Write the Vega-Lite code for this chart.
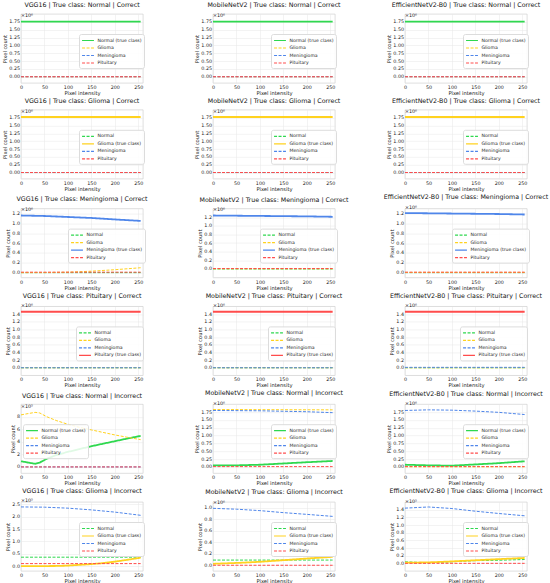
{
  "$schema": "https://vega.github.io/schema/vega-lite/v6.json",
  "background": "white",
  "padding": {"left": 2, "top": 2, "right": 2, "bottom": 1},
  "datasets": {
    "d": [
      {"p":"1v","s":"Normal (true class)","x":0,"y":1.76},{"p":"1v","s":"Normal (true class)","x":255,"y":1.76},
      {"p":"1v","s":"Glioma","x":0,"y":0},{"p":"1v","s":"Glioma","x":255,"y":0},
      {"p":"1v","s":"Meningioma","x":0,"y":0},{"p":"1v","s":"Meningioma","x":255,"y":0},
      {"p":"1v","s":"Pituitary","x":0,"y":0},{"p":"1v","s":"Pituitary","x":255,"y":0},
      {"p":"1m","s":"Normal (true class)","x":0,"y":1.76},{"p":"1m","s":"Normal (true class)","x":255,"y":1.76},
      {"p":"1m","s":"Glioma","x":0,"y":0},{"p":"1m","s":"Glioma","x":255,"y":0},
      {"p":"1m","s":"Meningioma","x":0,"y":0},{"p":"1m","s":"Meningioma","x":255,"y":0},
      {"p":"1m","s":"Pituitary","x":0,"y":0},{"p":"1m","s":"Pituitary","x":255,"y":0},
      {"p":"1e","s":"Normal (true class)","x":0,"y":1.76},{"p":"1e","s":"Normal (true class)","x":255,"y":1.76},
      {"p":"1e","s":"Glioma","x":0,"y":0},{"p":"1e","s":"Glioma","x":255,"y":0},
      {"p":"1e","s":"Meningioma","x":0,"y":0},{"p":"1e","s":"Meningioma","x":255,"y":0},
      {"p":"1e","s":"Pituitary","x":0,"y":0},{"p":"1e","s":"Pituitary","x":255,"y":0},

      {"p":"2v","s":"Normal","x":0,"y":0},{"p":"2v","s":"Normal","x":255,"y":0},
      {"p":"2v","s":"Glioma (true class)","x":0,"y":1.77},{"p":"2v","s":"Glioma (true class)","x":255,"y":1.77},
      {"p":"2v","s":"Meningioma","x":0,"y":0},{"p":"2v","s":"Meningioma","x":255,"y":0},
      {"p":"2v","s":"Pituitary","x":0,"y":0},{"p":"2v","s":"Pituitary","x":255,"y":0},
      {"p":"2m","s":"Normal","x":0,"y":0},{"p":"2m","s":"Normal","x":255,"y":0},
      {"p":"2m","s":"Glioma (true class)","x":0,"y":1.77},{"p":"2m","s":"Glioma (true class)","x":255,"y":1.77},
      {"p":"2m","s":"Meningioma","x":0,"y":0},{"p":"2m","s":"Meningioma","x":255,"y":0},
      {"p":"2m","s":"Pituitary","x":0,"y":0},{"p":"2m","s":"Pituitary","x":255,"y":0},
      {"p":"2e","s":"Normal","x":0,"y":0},{"p":"2e","s":"Normal","x":255,"y":0},
      {"p":"2e","s":"Glioma (true class)","x":0,"y":1.77},{"p":"2e","s":"Glioma (true class)","x":255,"y":1.77},
      {"p":"2e","s":"Meningioma","x":0,"y":0},{"p":"2e","s":"Meningioma","x":255,"y":0},
      {"p":"2e","s":"Pituitary","x":0,"y":0},{"p":"2e","s":"Pituitary","x":255,"y":0},

      {"p":"3v","s":"Normal","x":0,"y":0},{"p":"3v","s":"Normal","x":255,"y":0},
      {"p":"3v","s":"Glioma","x":0,"y":0},{"p":"3v","s":"Glioma","x":50,"y":0.002},{"p":"3v","s":"Glioma","x":100,"y":0.01},{"p":"3v","s":"Glioma","x":150,"y":0.03},{"p":"3v","s":"Glioma","x":200,"y":0.06},{"p":"3v","s":"Glioma","x":255,"y":0.1},
      {"p":"3v","s":"Meningioma (true class)","x":0,"y":1.16},{"p":"3v","s":"Meningioma (true class)","x":50,"y":1.15},{"p":"3v","s":"Meningioma (true class)","x":100,"y":1.13},{"p":"3v","s":"Meningioma (true class)","x":150,"y":1.11},{"p":"3v","s":"Meningioma (true class)","x":200,"y":1.08},{"p":"3v","s":"Meningioma (true class)","x":255,"y":1.05},
      {"p":"3v","s":"Pituitary","x":0,"y":0.01},{"p":"3v","s":"Pituitary","x":255,"y":0.01},
      {"p":"3m","s":"Normal","x":0,"y":0},{"p":"3m","s":"Normal","x":255,"y":0},
      {"p":"3m","s":"Glioma","x":0,"y":0.005},{"p":"3m","s":"Glioma","x":255,"y":0.005},
      {"p":"3m","s":"Meningioma (true class)","x":0,"y":1.24},{"p":"3m","s":"Meningioma (true class)","x":100,"y":1.23},{"p":"3m","s":"Meningioma (true class)","x":200,"y":1.22},{"p":"3m","s":"Meningioma (true class)","x":255,"y":1.21},
      {"p":"3m","s":"Pituitary","x":0,"y":0.01},{"p":"3m","s":"Pituitary","x":255,"y":0.01},
      {"p":"3e","s":"Normal","x":0,"y":0},{"p":"3e","s":"Normal","x":255,"y":0},
      {"p":"3e","s":"Glioma","x":0,"y":0.005},{"p":"3e","s":"Glioma","x":255,"y":0.005},
      {"p":"3e","s":"Meningioma (true class)","x":0,"y":1.21},{"p":"3e","s":"Meningioma (true class)","x":100,"y":1.2},{"p":"3e","s":"Meningioma (true class)","x":200,"y":1.19},{"p":"3e","s":"Meningioma (true class)","x":255,"y":1.18},
      {"p":"3e","s":"Pituitary","x":0,"y":0.01},{"p":"3e","s":"Pituitary","x":255,"y":0.01},

      {"p":"4v","s":"Normal","x":0,"y":0},{"p":"4v","s":"Normal","x":255,"y":0},
      {"p":"4v","s":"Glioma","x":0,"y":0},{"p":"4v","s":"Glioma","x":255,"y":0},
      {"p":"4v","s":"Meningioma","x":0,"y":0},{"p":"4v","s":"Meningioma","x":255,"y":0},
      {"p":"4v","s":"Pituitary (true class)","x":0,"y":1.46},{"p":"4v","s":"Pituitary (true class)","x":255,"y":1.46},
      {"p":"4m","s":"Normal","x":0,"y":0},{"p":"4m","s":"Normal","x":255,"y":0},
      {"p":"4m","s":"Glioma","x":0,"y":0},{"p":"4m","s":"Glioma","x":255,"y":0},
      {"p":"4m","s":"Meningioma","x":0,"y":0},{"p":"4m","s":"Meningioma","x":255,"y":0},
      {"p":"4m","s":"Pituitary (true class)","x":0,"y":1.46},{"p":"4m","s":"Pituitary (true class)","x":255,"y":1.46},
      {"p":"4e","s":"Normal","x":0,"y":0},{"p":"4e","s":"Normal","x":255,"y":0},
      {"p":"4e","s":"Glioma","x":0,"y":0},{"p":"4e","s":"Glioma","x":255,"y":0},
      {"p":"4e","s":"Meningioma","x":0,"y":0.01},{"p":"4e","s":"Meningioma","x":255,"y":0.01},
      {"p":"4e","s":"Pituitary (true class)","x":0,"y":1.46},{"p":"4e","s":"Pituitary (true class)","x":255,"y":1.46},

      {"p":"5v","s":"Normal (true class)","x":0,"y":0.9},{"p":"5v","s":"Normal (true class)","x":15,"y":0.7},{"p":"5v","s":"Normal (true class)","x":30,"y":0.5},{"p":"5v","s":"Normal (true class)","x":40,"y":0.7},{"p":"5v","s":"Normal (true class)","x":55,"y":1.3},{"p":"5v","s":"Normal (true class)","x":75,"y":1.9},{"p":"5v","s":"Normal (true class)","x":100,"y":2.4},{"p":"5v","s":"Normal (true class)","x":125,"y":2.85},{"p":"5v","s":"Normal (true class)","x":150,"y":3.3},{"p":"5v","s":"Normal (true class)","x":175,"y":3.7},{"p":"5v","s":"Normal (true class)","x":200,"y":4.1},{"p":"5v","s":"Normal (true class)","x":225,"y":4.5},{"p":"5v","s":"Normal (true class)","x":255,"y":4.95},
      {"p":"5v","s":"Glioma","x":0,"y":8.3},{"p":"5v","s":"Glioma","x":15,"y":8.5},{"p":"5v","s":"Glioma","x":30,"y":8.7},{"p":"5v","s":"Glioma","x":40,"y":8.6},{"p":"5v","s":"Glioma","x":55,"y":8.0},{"p":"5v","s":"Glioma","x":75,"y":7.4},{"p":"5v","s":"Glioma","x":100,"y":6.8},{"p":"5v","s":"Glioma","x":125,"y":6.3},{"p":"5v","s":"Glioma","x":150,"y":5.9},{"p":"5v","s":"Glioma","x":175,"y":5.5},{"p":"5v","s":"Glioma","x":200,"y":5.1},{"p":"5v","s":"Glioma","x":225,"y":4.75},{"p":"5v","s":"Glioma","x":255,"y":4.35},
      {"p":"5v","s":"Meningioma","x":0,"y":0},{"p":"5v","s":"Meningioma","x":255,"y":0},
      {"p":"5v","s":"Pituitary","x":0,"y":0},{"p":"5v","s":"Pituitary","x":255,"y":0},
      {"p":"5m","s":"Normal (true class)","x":0,"y":0.05},{"p":"5m","s":"Normal (true class)","x":50,"y":0.05},{"p":"5m","s":"Normal (true class)","x":100,"y":0.07},{"p":"5m","s":"Normal (true class)","x":150,"y":0.11},{"p":"5m","s":"Normal (true class)","x":200,"y":0.15},{"p":"5m","s":"Normal (true class)","x":255,"y":0.19},
      {"p":"5m","s":"Glioma","x":0,"y":1.83},{"p":"5m","s":"Glioma","x":255,"y":1.82},
      {"p":"5m","s":"Meningioma","x":0,"y":1.8},{"p":"5m","s":"Meningioma","x":100,"y":1.79},{"p":"5m","s":"Meningioma","x":200,"y":1.76},{"p":"5m","s":"Meningioma","x":255,"y":1.73},
      {"p":"5m","s":"Pituitary","x":0,"y":0.01},{"p":"5m","s":"Pituitary","x":255,"y":0.01},
      {"p":"5e","s":"Normal (true class)","x":0,"y":0.07},{"p":"5e","s":"Normal (true class)","x":50,"y":0.05},{"p":"5e","s":"Normal (true class)","x":100,"y":0.04},{"p":"5e","s":"Normal (true class)","x":150,"y":0.08},{"p":"5e","s":"Normal (true class)","x":200,"y":0.12},{"p":"5e","s":"Normal (true class)","x":255,"y":0.18},
      {"p":"5e","s":"Glioma","x":0,"y":0.005},{"p":"5e","s":"Glioma","x":255,"y":0.005},
      {"p":"5e","s":"Meningioma","x":0,"y":1.8},{"p":"5e","s":"Meningioma","x":50,"y":1.82},{"p":"5e","s":"Meningioma","x":100,"y":1.81},{"p":"5e","s":"Meningioma","x":150,"y":1.78},{"p":"5e","s":"Meningioma","x":200,"y":1.74},{"p":"5e","s":"Meningioma","x":255,"y":1.67},
      {"p":"5e","s":"Pituitary","x":0,"y":0.01},{"p":"5e","s":"Pituitary","x":255,"y":0.01},

      {"p":"6v","s":"Normal","x":0,"y":0.36},{"p":"6v","s":"Normal","x":255,"y":0.36},
      {"p":"6v","s":"Glioma (true class)","x":0,"y":0},{"p":"6v","s":"Glioma (true class)","x":50,"y":0},{"p":"6v","s":"Glioma (true class)","x":80,"y":0.005},{"p":"6v","s":"Glioma (true class)","x":100,"y":0.02},{"p":"6v","s":"Glioma (true class)","x":125,"y":0.05},{"p":"6v","s":"Glioma (true class)","x":150,"y":0.08},{"p":"6v","s":"Glioma (true class)","x":175,"y":0.12},{"p":"6v","s":"Glioma (true class)","x":200,"y":0.18},{"p":"6v","s":"Glioma (true class)","x":225,"y":0.25},{"p":"6v","s":"Glioma (true class)","x":255,"y":0.34},
      {"p":"6v","s":"Meningioma","x":0,"y":2.4},{"p":"6v","s":"Meningioma","x":50,"y":2.39},{"p":"6v","s":"Meningioma","x":100,"y":2.35},{"p":"6v","s":"Meningioma","x":150,"y":2.28},{"p":"6v","s":"Meningioma","x":200,"y":2.19},{"p":"6v","s":"Meningioma","x":255,"y":2.06},
      {"p":"6v","s":"Pituitary","x":0,"y":0.1},{"p":"6v","s":"Pituitary","x":255,"y":0.1},
      {"p":"6m","s":"Normal","x":0,"y":0.09},{"p":"6m","s":"Normal","x":255,"y":0.09},
      {"p":"6m","s":"Glioma (true class)","x":0,"y":0.025},{"p":"6m","s":"Glioma (true class)","x":50,"y":0.04},{"p":"6m","s":"Glioma (true class)","x":100,"y":0.06},{"p":"6m","s":"Glioma (true class)","x":150,"y":0.088},{"p":"6m","s":"Glioma (true class)","x":200,"y":0.117},{"p":"6m","s":"Glioma (true class)","x":255,"y":0.146},
      {"p":"6m","s":"Meningioma","x":0,"y":0.99},{"p":"6m","s":"Meningioma","x":50,"y":0.975},{"p":"6m","s":"Meningioma","x":100,"y":0.95},{"p":"6m","s":"Meningioma","x":150,"y":0.915},{"p":"6m","s":"Meningioma","x":200,"y":0.885},{"p":"6m","s":"Meningioma","x":255,"y":0.85},
      {"p":"6m","s":"Pituitary","x":0,"y":0},{"p":"6m","s":"Pituitary","x":255,"y":0},
      {"p":"6e","s":"Normal","x":0,"y":0.04},{"p":"6e","s":"Normal","x":50,"y":0.015},{"p":"6e","s":"Normal","x":100,"y":0.04},{"p":"6e","s":"Normal","x":150,"y":0.07},{"p":"6e","s":"Normal","x":200,"y":0.08},{"p":"6e","s":"Normal","x":255,"y":0.1},
      {"p":"6e","s":"Glioma (true class)","x":0,"y":0.015},{"p":"6e","s":"Glioma (true class)","x":50,"y":0.025},{"p":"6e","s":"Glioma (true class)","x":100,"y":0.05},{"p":"6e","s":"Glioma (true class)","x":150,"y":0.08},{"p":"6e","s":"Glioma (true class)","x":200,"y":0.11},{"p":"6e","s":"Glioma (true class)","x":255,"y":0.14},
      {"p":"6e","s":"Meningioma","x":0,"y":1.44},{"p":"6e","s":"Meningioma","x":50,"y":1.47},{"p":"6e","s":"Meningioma","x":100,"y":1.43},{"p":"6e","s":"Meningioma","x":150,"y":1.36},{"p":"6e","s":"Meningioma","x":200,"y":1.3},{"p":"6e","s":"Meningioma","x":255,"y":1.24},
      {"p":"6e","s":"Pituitary","x":0,"y":0},{"p":"6e","s":"Pituitary","x":255,"y":0}
    ]
  },
  "spacing": 0.8,
  "resolve": {"scale": {"color": "independent", "strokeDash": "independent"}},
  "vconcat": [
    {
      "bounds": "flush", "spacing": 70,
      "resolve": {"scale": {"color": "independent", "strokeDash": "independent"}},
      "hconcat": [
        {"title": "VGG16 | True class: Normal | Correct", "width": 122, "height": 69, "layer": [
          {"data": {"name": "d"}, "transform": [{"filter": "datum.p=='1v'"}], "mark": "line", "encoding": {
            "x": {"field": "x", "type": "quantitative", "title": "Pixel intensity", "scale": {"domain": [0, 255]}, "axis": {"values": [0, 50, 100, 150, 200, 250], "labelOverlap": false}},
            "y": {"field": "y", "type": "quantitative", "title": "Pixel count", "scale": {"domain": [-0.088, 1.848]}, "axis": {"values": [0, 0.25, 0.5, 0.75, 1, 1.25, 1.5, 1.75], "format": ".2f", "labelOverlap": false}},
            "color": {"field": "s", "type": "nominal", "scale": {"domain": ["Normal (true class)", "Glioma", "Meningioma", "Pituitary"], "range": ["#2fd84f", "#ffd21f", "#4f86ea", "#ff4c4c"]}, "legend": {"title": null, "legendX": 58, "legendY": 20}},
            "strokeDash": {"field": "s", "type": "nominal", "scale": {"domain": ["Normal (true class)", "Glioma", "Meningioma", "Pituitary"], "range": [[1, 0], [3, 1.5], [3, 1.5], [3, 1.5]]}, "legend": {"title": null}},
            "strokeWidth": {"condition": {"test": "indexof(datum.s,'true')>=0", "value": 1.8}, "value": 1}}},
          {"data": {"values": [{"t": "×10⁶"}]}, "mark": {"type": "text", "align": "left", "baseline": "bottom", "dy": -0.5, "fontSize": 4.8}, "encoding": {
            "x": {"datum": 0, "type": "quantitative", "title": "Pixel intensity", "axis": {"values": [0, 50, 100, 150, 200, 250], "labelOverlap": false}},
            "y": {"datum": 1.848, "type": "quantitative", "title": "Pixel count", "axis": {"values": [0, 0.25, 0.5, 0.75, 1, 1.25, 1.5, 1.75], "format": ".2f", "labelOverlap": false}}, "text": {"field": "t"}}}]},
        {"title": "MobileNetV2 | True class: Normal | Correct", "width": 122, "height": 69, "layer": [
          {"data": {"name": "d"}, "transform": [{"filter": "datum.p=='1m'"}], "mark": "line", "encoding": {
            "x": {"field": "x", "type": "quantitative", "title": "Pixel intensity", "scale": {"domain": [0, 255]}, "axis": {"values": [0, 50, 100, 150, 200, 250], "labelOverlap": false}},
            "y": {"field": "y", "type": "quantitative", "title": "Pixel count", "scale": {"domain": [-0.088, 1.848]}, "axis": {"values": [0, 0.25, 0.5, 0.75, 1, 1.25, 1.5, 1.75], "format": ".2f", "labelOverlap": false}},
            "color": {"field": "s", "type": "nominal", "scale": {"domain": ["Normal (true class)", "Glioma", "Meningioma", "Pituitary"], "range": ["#2fd84f", "#ffd21f", "#4f86ea", "#ff4c4c"]}, "legend": {"title": null, "legendX": 58, "legendY": 20}},
            "strokeDash": {"field": "s", "type": "nominal", "scale": {"domain": ["Normal (true class)", "Glioma", "Meningioma", "Pituitary"], "range": [[1, 0], [3, 1.5], [3, 1.5], [3, 1.5]]}, "legend": {"title": null}},
            "strokeWidth": {"condition": {"test": "indexof(datum.s,'true')>=0", "value": 1.8}, "value": 1}}},
          {"data": {"values": [{"t": "×10⁶"}]}, "mark": {"type": "text", "align": "left", "baseline": "bottom", "dy": -0.5, "fontSize": 4.8}, "encoding": {
            "x": {"datum": 0, "type": "quantitative", "title": "Pixel intensity", "axis": {"values": [0, 50, 100, 150, 200, 250], "labelOverlap": false}},
            "y": {"datum": 1.848, "type": "quantitative", "title": "Pixel count", "axis": {"values": [0, 0.25, 0.5, 0.75, 1, 1.25, 1.5, 1.75], "format": ".2f", "labelOverlap": false}}, "text": {"field": "t"}}}]},
        {"title": "EfficientNetV2-B0 | True class: Normal | Correct", "width": 122, "height": 69, "layer": [
          {"data": {"name": "d"}, "transform": [{"filter": "datum.p=='1e'"}], "mark": "line", "encoding": {
            "x": {"field": "x", "type": "quantitative", "title": "Pixel intensity", "scale": {"domain": [0, 255]}, "axis": {"values": [0, 50, 100, 150, 200, 250], "labelOverlap": false}},
            "y": {"field": "y", "type": "quantitative", "title": "Pixel count", "scale": {"domain": [-0.088, 1.848]}, "axis": {"values": [0, 0.25, 0.5, 0.75, 1, 1.25, 1.5, 1.75], "format": ".2f", "labelOverlap": false}},
            "color": {"field": "s", "type": "nominal", "scale": {"domain": ["Normal (true class)", "Glioma", "Meningioma", "Pituitary"], "range": ["#2fd84f", "#ffd21f", "#4f86ea", "#ff4c4c"]}, "legend": {"title": null, "legendX": 58, "legendY": 20}},
            "strokeDash": {"field": "s", "type": "nominal", "scale": {"domain": ["Normal (true class)", "Glioma", "Meningioma", "Pituitary"], "range": [[1, 0], [3, 1.5], [3, 1.5], [3, 1.5]]}, "legend": {"title": null}},
            "strokeWidth": {"condition": {"test": "indexof(datum.s,'true')>=0", "value": 1.8}, "value": 1}}},
          {"data": {"values": [{"t": "×10⁶"}]}, "mark": {"type": "text", "align": "left", "baseline": "bottom", "dy": -0.5, "fontSize": 4.8}, "encoding": {
            "x": {"datum": 0, "type": "quantitative", "title": "Pixel intensity", "axis": {"values": [0, 50, 100, 150, 200, 250], "labelOverlap": false}},
            "y": {"datum": 1.848, "type": "quantitative", "title": "Pixel count", "axis": {"values": [0, 0.25, 0.5, 0.75, 1, 1.25, 1.5, 1.75], "format": ".2f", "labelOverlap": false}}, "text": {"field": "t"}}}]}
      ]
    },
    {
      "bounds": "flush", "spacing": 70,
      "resolve": {"scale": {"color": "independent", "strokeDash": "independent"}},
      "hconcat": [
        {"title": "VGG16 | True class: Glioma | Correct", "width": 122, "height": 69, "layer": [
          {"data": {"name": "d"}, "transform": [{"filter": "datum.p=='2v'"}], "mark": "line", "encoding": {
            "x": {"field": "x", "type": "quantitative", "title": "Pixel intensity", "scale": {"domain": [0, 255]}, "axis": {"values": [0, 50, 100, 150, 200, 250], "labelOverlap": false}},
            "y": {"field": "y", "type": "quantitative", "title": "Pixel count", "scale": {"domain": [-0.089, 1.859]}, "axis": {"values": [0, 0.25, 0.5, 0.75, 1, 1.25, 1.5, 1.75], "format": ".2f", "labelOverlap": false}},
            "color": {"field": "s", "type": "nominal", "scale": {"domain": ["Normal", "Glioma (true class)", "Meningioma", "Pituitary"], "range": ["#2fd84f", "#ffd21f", "#4f86ea", "#ff4c4c"]}, "legend": {"title": null, "legendX": 58, "legendY": 20}},
            "strokeDash": {"field": "s", "type": "nominal", "scale": {"domain": ["Normal", "Glioma (true class)", "Meningioma", "Pituitary"], "range": [[3, 1.5], [1, 0], [3, 1.5], [3, 1.5]]}, "legend": {"title": null}},
            "strokeWidth": {"condition": {"test": "indexof(datum.s,'true')>=0", "value": 1.8}, "value": 1}}},
          {"data": {"values": [{"t": "×10⁶"}]}, "mark": {"type": "text", "align": "left", "baseline": "bottom", "dy": -0.5, "fontSize": 4.8}, "encoding": {
            "x": {"datum": 0, "type": "quantitative", "title": "Pixel intensity", "axis": {"values": [0, 50, 100, 150, 200, 250], "labelOverlap": false}},
            "y": {"datum": 1.859, "type": "quantitative", "title": "Pixel count", "axis": {"values": [0, 0.25, 0.5, 0.75, 1, 1.25, 1.5, 1.75], "format": ".2f", "labelOverlap": false}}, "text": {"field": "t"}}}]},
        {"title": "MobileNetV2 | True class: Glioma | Correct", "width": 122, "height": 69, "layer": [
          {"data": {"name": "d"}, "transform": [{"filter": "datum.p=='2m'"}], "mark": "line", "encoding": {
            "x": {"field": "x", "type": "quantitative", "title": "Pixel intensity", "scale": {"domain": [0, 255]}, "axis": {"values": [0, 50, 100, 150, 200, 250], "labelOverlap": false}},
            "y": {"field": "y", "type": "quantitative", "title": "Pixel count", "scale": {"domain": [-0.089, 1.859]}, "axis": {"values": [0, 0.25, 0.5, 0.75, 1, 1.25, 1.5, 1.75], "format": ".2f", "labelOverlap": false}},
            "color": {"field": "s", "type": "nominal", "scale": {"domain": ["Normal", "Glioma (true class)", "Meningioma", "Pituitary"], "range": ["#2fd84f", "#ffd21f", "#4f86ea", "#ff4c4c"]}, "legend": {"title": null, "legendX": 58, "legendY": 20}},
            "strokeDash": {"field": "s", "type": "nominal", "scale": {"domain": ["Normal", "Glioma (true class)", "Meningioma", "Pituitary"], "range": [[3, 1.5], [1, 0], [3, 1.5], [3, 1.5]]}, "legend": {"title": null}},
            "strokeWidth": {"condition": {"test": "indexof(datum.s,'true')>=0", "value": 1.8}, "value": 1}}},
          {"data": {"values": [{"t": "×10⁶"}]}, "mark": {"type": "text", "align": "left", "baseline": "bottom", "dy": -0.5, "fontSize": 4.8}, "encoding": {
            "x": {"datum": 0, "type": "quantitative", "title": "Pixel intensity", "axis": {"values": [0, 50, 100, 150, 200, 250], "labelOverlap": false}},
            "y": {"datum": 1.859, "type": "quantitative", "title": "Pixel count", "axis": {"values": [0, 0.25, 0.5, 0.75, 1, 1.25, 1.5, 1.75], "format": ".2f", "labelOverlap": false}}, "text": {"field": "t"}}}]},
        {"title": "EfficientNetV2-B0 | True class: Glioma | Correct", "width": 122, "height": 69, "layer": [
          {"data": {"name": "d"}, "transform": [{"filter": "datum.p=='2e'"}], "mark": "line", "encoding": {
            "x": {"field": "x", "type": "quantitative", "title": "Pixel intensity", "scale": {"domain": [0, 255]}, "axis": {"values": [0, 50, 100, 150, 200, 250], "labelOverlap": false}},
            "y": {"field": "y", "type": "quantitative", "title": "Pixel count", "scale": {"domain": [-0.089, 1.859]}, "axis": {"values": [0, 0.25, 0.5, 0.75, 1, 1.25, 1.5, 1.75], "format": ".2f", "labelOverlap": false}},
            "color": {"field": "s", "type": "nominal", "scale": {"domain": ["Normal", "Glioma (true class)", "Meningioma", "Pituitary"], "range": ["#2fd84f", "#ffd21f", "#4f86ea", "#ff4c4c"]}, "legend": {"title": null, "legendX": 58, "legendY": 20}},
            "strokeDash": {"field": "s", "type": "nominal", "scale": {"domain": ["Normal", "Glioma (true class)", "Meningioma", "Pituitary"], "range": [[3, 1.5], [1, 0], [3, 1.5], [3, 1.5]]}, "legend": {"title": null}},
            "strokeWidth": {"condition": {"test": "indexof(datum.s,'true')>=0", "value": 1.8}, "value": 1}}},
          {"data": {"values": [{"t": "×10⁶"}]}, "mark": {"type": "text", "align": "left", "baseline": "bottom", "dy": -0.5, "fontSize": 4.8}, "encoding": {
            "x": {"datum": 0, "type": "quantitative", "title": "Pixel intensity", "axis": {"values": [0, 50, 100, 150, 200, 250], "labelOverlap": false}},
            "y": {"datum": 1.859, "type": "quantitative", "title": "Pixel count", "axis": {"values": [0, 0.25, 0.5, 0.75, 1, 1.25, 1.5, 1.75], "format": ".2f", "labelOverlap": false}}, "text": {"field": "t"}}}]}
      ]
    },
    {
      "bounds": "flush", "spacing": 70,
      "resolve": {"scale": {"color": "independent", "strokeDash": "independent"}},
      "hconcat": [
        {"title": "VGG16 | True class: Meningioma | Correct", "width": 122, "height": 69, "layer": [
          {"data": {"name": "d"}, "transform": [{"filter": "datum.p=='3v'"}], "mark": "line", "encoding": {
            "x": {"field": "x", "type": "quantitative", "title": "Pixel intensity", "scale": {"domain": [0, 255]}, "axis": {"values": [0, 50, 100, 150, 200, 250], "labelOverlap": false}},
            "y": {"field": "y", "type": "quantitative", "title": "Pixel count", "scale": {"domain": [-0.058, 1.218]}, "axis": {"values": [0, 0.2, 0.4, 0.6, 0.8, 1, 1.2], "format": ".1f", "labelOverlap": false}},
            "color": {"field": "s", "type": "nominal", "scale": {"domain": ["Normal", "Glioma", "Meningioma (true class)", "Pituitary"], "range": ["#2fd84f", "#ffd21f", "#4f86ea", "#ff4c4c"]}, "legend": {"title": null, "legendX": 47, "legendY": 20}},
            "strokeDash": {"field": "s", "type": "nominal", "scale": {"domain": ["Normal", "Glioma", "Meningioma (true class)", "Pituitary"], "range": [[3, 1.5], [3, 1.5], [1, 0], [3, 1.5]]}, "legend": {"title": null}},
            "strokeWidth": {"condition": {"test": "indexof(datum.s,'true')>=0", "value": 1.8}, "value": 1}}},
          {"data": {"values": [{"t": "×10⁶"}]}, "mark": {"type": "text", "align": "left", "baseline": "bottom", "dy": -0.5, "fontSize": 4.8}, "encoding": {
            "x": {"datum": 0, "type": "quantitative", "title": "Pixel intensity", "axis": {"values": [0, 50, 100, 150, 200, 250], "labelOverlap": false}},
            "y": {"datum": 1.218, "type": "quantitative", "title": "Pixel count", "axis": {"values": [0, 0.2, 0.4, 0.6, 0.8, 1, 1.2], "format": ".1f", "labelOverlap": false}}, "text": {"field": "t"}}}]},
        {"title": "MobileNetV2 | True class: Meningioma | Correct", "width": 122, "height": 69, "layer": [
          {"data": {"name": "d"}, "transform": [{"filter": "datum.p=='3m'"}], "mark": "line", "encoding": {
            "x": {"field": "x", "type": "quantitative", "title": "Pixel intensity", "scale": {"domain": [0, 255]}, "axis": {"values": [0, 50, 100, 150, 200, 250], "labelOverlap": false}},
            "y": {"field": "y", "type": "quantitative", "title": "Pixel count", "scale": {"domain": [-0.062, 1.302]}, "axis": {"values": [0, 0.2, 0.4, 0.6, 0.8, 1, 1.2], "format": ".1f", "labelOverlap": false}},
            "color": {"field": "s", "type": "nominal", "scale": {"domain": ["Normal", "Glioma", "Meningioma (true class)", "Pituitary"], "range": ["#2fd84f", "#ffd21f", "#4f86ea", "#ff4c4c"]}, "legend": {"title": null, "legendX": 47, "legendY": 20}},
            "strokeDash": {"field": "s", "type": "nominal", "scale": {"domain": ["Normal", "Glioma", "Meningioma (true class)", "Pituitary"], "range": [[3, 1.5], [3, 1.5], [1, 0], [3, 1.5]]}, "legend": {"title": null}},
            "strokeWidth": {"condition": {"test": "indexof(datum.s,'true')>=0", "value": 1.8}, "value": 1}}},
          {"data": {"values": [{"t": "×10⁶"}]}, "mark": {"type": "text", "align": "left", "baseline": "bottom", "dy": -0.5, "fontSize": 4.8}, "encoding": {
            "x": {"datum": 0, "type": "quantitative", "title": "Pixel intensity", "axis": {"values": [0, 50, 100, 150, 200, 250], "labelOverlap": false}},
            "y": {"datum": 1.302, "type": "quantitative", "title": "Pixel count", "axis": {"values": [0, 0.2, 0.4, 0.6, 0.8, 1, 1.2], "format": ".1f", "labelOverlap": false}}, "text": {"field": "t"}}}]},
        {"title": "EfficientNetV2-B0 | True class: Meningioma | Correct", "width": 122, "height": 69, "layer": [
          {"data": {"name": "d"}, "transform": [{"filter": "datum.p=='3e'"}], "mark": "line", "encoding": {
            "x": {"field": "x", "type": "quantitative", "title": "Pixel intensity", "scale": {"domain": [0, 255]}, "axis": {"values": [0, 50, 100, 150, 200, 250], "labelOverlap": false}},
            "y": {"field": "y", "type": "quantitative", "title": "Pixel count", "scale": {"domain": [-0.061, 1.271]}, "axis": {"values": [0, 0.2, 0.4, 0.6, 0.8, 1, 1.2], "format": ".1f", "labelOverlap": false}},
            "color": {"field": "s", "type": "nominal", "scale": {"domain": ["Normal", "Glioma", "Meningioma (true class)", "Pituitary"], "range": ["#2fd84f", "#ffd21f", "#4f86ea", "#ff4c4c"]}, "legend": {"title": null, "legendX": 47, "legendY": 20}},
            "strokeDash": {"field": "s", "type": "nominal", "scale": {"domain": ["Normal", "Glioma", "Meningioma (true class)", "Pituitary"], "range": [[3, 1.5], [3, 1.5], [1, 0], [3, 1.5]]}, "legend": {"title": null}},
            "strokeWidth": {"condition": {"test": "indexof(datum.s,'true')>=0", "value": 1.8}, "value": 1}}},
          {"data": {"values": [{"t": "×10⁶"}]}, "mark": {"type": "text", "align": "left", "baseline": "bottom", "dy": -0.5, "fontSize": 4.8}, "encoding": {
            "x": {"datum": 0, "type": "quantitative", "title": "Pixel intensity", "axis": {"values": [0, 50, 100, 150, 200, 250], "labelOverlap": false}},
            "y": {"datum": 1.271, "type": "quantitative", "title": "Pixel count", "axis": {"values": [0, 0.2, 0.4, 0.6, 0.8, 1, 1.2], "format": ".1f", "labelOverlap": false}}, "text": {"field": "t"}}}]}
      ]
    },
    {
      "bounds": "flush", "spacing": 70,
      "resolve": {"scale": {"color": "independent", "strokeDash": "independent"}},
      "hconcat": [
        {"title": "VGG16 | True class: Pituitary | Correct", "width": 122, "height": 69, "layer": [
          {"data": {"name": "d"}, "transform": [{"filter": "datum.p=='4v'"}], "mark": "line", "encoding": {
            "x": {"field": "x", "type": "quantitative", "title": "Pixel intensity", "scale": {"domain": [0, 255]}, "axis": {"values": [0, 50, 100, 150, 200, 250], "labelOverlap": false}},
            "y": {"field": "y", "type": "quantitative", "title": "Pixel count", "scale": {"domain": [-0.073, 1.533]}, "axis": {"values": [0, 0.2, 0.4, 0.6, 0.8, 1, 1.2, 1.4], "format": ".1f", "labelOverlap": false}},
            "color": {"field": "s", "type": "nominal", "scale": {"domain": ["Normal", "Glioma", "Meningioma", "Pituitary (true class)"], "range": ["#2fd84f", "#ffd21f", "#4f86ea", "#ff4c4c"]}, "legend": {"title": null, "legendX": 55, "legendY": 20}},
            "strokeDash": {"field": "s", "type": "nominal", "scale": {"domain": ["Normal", "Glioma", "Meningioma", "Pituitary (true class)"], "range": [[3, 1.5], [3, 1.5], [3, 1.5], [1, 0]]}, "legend": {"title": null}},
            "strokeWidth": {"condition": {"test": "indexof(datum.s,'true')>=0", "value": 1.8}, "value": 1}}},
          {"data": {"values": [{"t": "×10⁶"}]}, "mark": {"type": "text", "align": "left", "baseline": "bottom", "dy": -0.5, "fontSize": 4.8}, "encoding": {
            "x": {"datum": 0, "type": "quantitative", "title": "Pixel intensity", "axis": {"values": [0, 50, 100, 150, 200, 250], "labelOverlap": false}},
            "y": {"datum": 1.533, "type": "quantitative", "title": "Pixel count", "axis": {"values": [0, 0.2, 0.4, 0.6, 0.8, 1, 1.2, 1.4], "format": ".1f", "labelOverlap": false}}, "text": {"field": "t"}}}]},
        {"title": "MobileNetV2 | True class: Pituitary | Correct", "width": 122, "height": 69, "layer": [
          {"data": {"name": "d"}, "transform": [{"filter": "datum.p=='4m'"}], "mark": "line", "encoding": {
            "x": {"field": "x", "type": "quantitative", "title": "Pixel intensity", "scale": {"domain": [0, 255]}, "axis": {"values": [0, 50, 100, 150, 200, 250], "labelOverlap": false}},
            "y": {"field": "y", "type": "quantitative", "title": "Pixel count", "scale": {"domain": [-0.073, 1.533]}, "axis": {"values": [0, 0.2, 0.4, 0.6, 0.8, 1, 1.2, 1.4], "format": ".1f", "labelOverlap": false}},
            "color": {"field": "s", "type": "nominal", "scale": {"domain": ["Normal", "Glioma", "Meningioma", "Pituitary (true class)"], "range": ["#2fd84f", "#ffd21f", "#4f86ea", "#ff4c4c"]}, "legend": {"title": null, "legendX": 55, "legendY": 20}},
            "strokeDash": {"field": "s", "type": "nominal", "scale": {"domain": ["Normal", "Glioma", "Meningioma", "Pituitary (true class)"], "range": [[3, 1.5], [3, 1.5], [3, 1.5], [1, 0]]}, "legend": {"title": null}},
            "strokeWidth": {"condition": {"test": "indexof(datum.s,'true')>=0", "value": 1.8}, "value": 1}}},
          {"data": {"values": [{"t": "×10⁶"}]}, "mark": {"type": "text", "align": "left", "baseline": "bottom", "dy": -0.5, "fontSize": 4.8}, "encoding": {
            "x": {"datum": 0, "type": "quantitative", "title": "Pixel intensity", "axis": {"values": [0, 50, 100, 150, 200, 250], "labelOverlap": false}},
            "y": {"datum": 1.533, "type": "quantitative", "title": "Pixel count", "axis": {"values": [0, 0.2, 0.4, 0.6, 0.8, 1, 1.2, 1.4], "format": ".1f", "labelOverlap": false}}, "text": {"field": "t"}}}]},
        {"title": "EfficientNetV2-B0 | True class: Pituitary | Correct", "width": 122, "height": 69, "layer": [
          {"data": {"name": "d"}, "transform": [{"filter": "datum.p=='4e'"}], "mark": "line", "encoding": {
            "x": {"field": "x", "type": "quantitative", "title": "Pixel intensity", "scale": {"domain": [0, 255]}, "axis": {"values": [0, 50, 100, 150, 200, 250], "labelOverlap": false}},
            "y": {"field": "y", "type": "quantitative", "title": "Pixel count", "scale": {"domain": [-0.073, 1.533]}, "axis": {"values": [0, 0.2, 0.4, 0.6, 0.8, 1, 1.2, 1.4], "format": ".1f", "labelOverlap": false}},
            "color": {"field": "s", "type": "nominal", "scale": {"domain": ["Normal", "Glioma", "Meningioma", "Pituitary (true class)"], "range": ["#2fd84f", "#ffd21f", "#4f86ea", "#ff4c4c"]}, "legend": {"title": null, "legendX": 55, "legendY": 20}},
            "strokeDash": {"field": "s", "type": "nominal", "scale": {"domain": ["Normal", "Glioma", "Meningioma", "Pituitary (true class)"], "range": [[3, 1.5], [3, 1.5], [3, 1.5], [1, 0]]}, "legend": {"title": null}},
            "strokeWidth": {"condition": {"test": "indexof(datum.s,'true')>=0", "value": 1.8}, "value": 1}}},
          {"data": {"values": [{"t": "×10⁶"}]}, "mark": {"type": "text", "align": "left", "baseline": "bottom", "dy": -0.5, "fontSize": 4.8}, "encoding": {
            "x": {"datum": 0, "type": "quantitative", "title": "Pixel intensity", "axis": {"values": [0, 50, 100, 150, 200, 250], "labelOverlap": false}},
            "y": {"datum": 1.533, "type": "quantitative", "title": "Pixel count", "axis": {"values": [0, 0.2, 0.4, 0.6, 0.8, 1, 1.2, 1.4], "format": ".1f", "labelOverlap": false}}, "text": {"field": "t"}}}]}
      ]
    },
    {
      "bounds": "flush", "spacing": 70,
      "resolve": {"scale": {"color": "independent", "strokeDash": "independent"}},
      "hconcat": [
        {"title": "VGG16 | True class: Normal | Incorrect", "width": 122, "height": 69, "layer": [
          {"data": {"name": "d"}, "transform": [{"filter": "datum.p=='5v'"}], "mark": "line", "encoding": {
            "x": {"field": "x", "type": "quantitative", "title": "Pixel intensity", "scale": {"domain": [0, 255]}, "axis": {"values": [0, 50, 100, 150, 200, 250], "labelOverlap": false}},
            "y": {"field": "y", "type": "quantitative", "title": "Pixel count", "scale": {"domain": [-0.435, 9.135]}, "axis": {"values": [0, 2, 4, 6, 8], "format": "d", "labelOverlap": false}},
            "color": {"field": "s", "type": "nominal", "scale": {"domain": ["Normal (true class)", "Glioma", "Meningioma", "Pituitary"], "range": ["#2fd84f", "#ffd21f", "#4f86ea", "#ff4c4c"]}, "legend": {"title": null, "legendX": 2, "legendY": 20}},
            "strokeDash": {"field": "s", "type": "nominal", "scale": {"domain": ["Normal (true class)", "Glioma", "Meningioma", "Pituitary"], "range": [[1, 0], [3, 1.5], [3, 1.5], [3, 1.5]]}, "legend": {"title": null}},
            "strokeWidth": {"condition": {"test": "indexof(datum.s,'true')>=0", "value": 1.8}, "value": 1}}},
          {"data": {"values": [{"t": "×10⁵"}]}, "mark": {"type": "text", "align": "left", "baseline": "bottom", "dy": -0.5, "fontSize": 4.8}, "encoding": {
            "x": {"datum": 0, "type": "quantitative", "title": "Pixel intensity", "axis": {"values": [0, 50, 100, 150, 200, 250], "labelOverlap": false}},
            "y": {"datum": 9.135, "type": "quantitative", "title": "Pixel count", "axis": {"values": [0, 2, 4, 6, 8], "format": "d", "labelOverlap": false}}, "text": {"field": "t"}}}]},
        {"title": "MobileNetV2 | True class: Normal | Incorrect", "width": 122, "height": 69, "layer": [
          {"data": {"name": "d"}, "transform": [{"filter": "datum.p=='5m'"}], "mark": "line", "encoding": {
            "x": {"field": "x", "type": "quantitative", "title": "Pixel intensity", "scale": {"domain": [0, 255]}, "axis": {"values": [0, 50, 100, 150, 200, 250], "labelOverlap": false}},
            "y": {"field": "y", "type": "quantitative", "title": "Pixel count", "scale": {"domain": [-0.092, 1.922]}, "axis": {"values": [0, 0.25, 0.5, 0.75, 1, 1.25, 1.5, 1.75], "format": ".2f", "labelOverlap": false}},
            "color": {"field": "s", "type": "nominal", "scale": {"domain": ["Normal (true class)", "Glioma", "Meningioma", "Pituitary"], "range": ["#2fd84f", "#ffd21f", "#4f86ea", "#ff4c4c"]}, "legend": {"title": null, "legendX": 58, "legendY": 20}},
            "strokeDash": {"field": "s", "type": "nominal", "scale": {"domain": ["Normal (true class)", "Glioma", "Meningioma", "Pituitary"], "range": [[1, 0], [3, 1.5], [3, 1.5], [3, 1.5]]}, "legend": {"title": null}},
            "strokeWidth": {"condition": {"test": "indexof(datum.s,'true')>=0", "value": 1.8}, "value": 1}}},
          {"data": {"values": [{"t": "×10⁶"}]}, "mark": {"type": "text", "align": "left", "baseline": "bottom", "dy": -0.5, "fontSize": 4.8}, "encoding": {
            "x": {"datum": 0, "type": "quantitative", "title": "Pixel intensity", "axis": {"values": [0, 50, 100, 150, 200, 250], "labelOverlap": false}},
            "y": {"datum": 1.922, "type": "quantitative", "title": "Pixel count", "axis": {"values": [0, 0.25, 0.5, 0.75, 1, 1.25, 1.5, 1.75], "format": ".2f", "labelOverlap": false}}, "text": {"field": "t"}}}]},
        {"title": "EfficientNetV2-B0 | True class: Normal | Incorrect", "width": 122, "height": 69, "layer": [
          {"data": {"name": "d"}, "transform": [{"filter": "datum.p=='5e'"}], "mark": "line", "encoding": {
            "x": {"field": "x", "type": "quantitative", "title": "Pixel intensity", "scale": {"domain": [0, 255]}, "axis": {"values": [0, 50, 100, 150, 200, 250], "labelOverlap": false}},
            "y": {"field": "y", "type": "quantitative", "title": "Pixel count", "scale": {"domain": [-0.091, 1.911]}, "axis": {"values": [0, 0.25, 0.5, 0.75, 1, 1.25, 1.5, 1.75], "format": ".2f", "labelOverlap": false}},
            "color": {"field": "s", "type": "nominal", "scale": {"domain": ["Normal (true class)", "Glioma", "Meningioma", "Pituitary"], "range": ["#2fd84f", "#ffd21f", "#4f86ea", "#ff4c4c"]}, "legend": {"title": null, "legendX": 58, "legendY": 20}},
            "strokeDash": {"field": "s", "type": "nominal", "scale": {"domain": ["Normal (true class)", "Glioma", "Meningioma", "Pituitary"], "range": [[1, 0], [3, 1.5], [3, 1.5], [3, 1.5]]}, "legend": {"title": null}},
            "strokeWidth": {"condition": {"test": "indexof(datum.s,'true')>=0", "value": 1.8}, "value": 1}}},
          {"data": {"values": [{"t": "×10⁶"}]}, "mark": {"type": "text", "align": "left", "baseline": "bottom", "dy": -0.5, "fontSize": 4.8}, "encoding": {
            "x": {"datum": 0, "type": "quantitative", "title": "Pixel intensity", "axis": {"values": [0, 50, 100, 150, 200, 250], "labelOverlap": false}},
            "y": {"datum": 1.911, "type": "quantitative", "title": "Pixel count", "axis": {"values": [0, 0.25, 0.5, 0.75, 1, 1.25, 1.5, 1.75], "format": ".2f", "labelOverlap": false}}, "text": {"field": "t"}}}]}
      ]
    },
    {
      "bounds": "flush", "spacing": 70,
      "resolve": {"scale": {"color": "independent", "strokeDash": "independent"}},
      "hconcat": [
        {"title": "VGG16 | True class: Glioma | Incorrect", "width": 122, "height": 69, "layer": [
          {"data": {"name": "d"}, "transform": [{"filter": "datum.p=='6v'"}], "mark": "line", "encoding": {
            "x": {"field": "x", "type": "quantitative", "title": "Pixel intensity", "scale": {"domain": [0, 255]}, "axis": {"values": [0, 50, 100, 150, 200, 250], "labelOverlap": false}},
            "y": {"field": "y", "type": "quantitative", "title": "Pixel count", "scale": {"domain": [-0.12, 2.52]}, "axis": {"values": [0, 0.5, 1, 1.5, 2, 2.5], "format": ".1f", "labelOverlap": false}},
            "color": {"field": "s", "type": "nominal", "scale": {"domain": ["Normal", "Glioma (true class)", "Meningioma", "Pituitary"], "range": ["#2fd84f", "#ffd21f", "#4f86ea", "#ff4c4c"]}, "legend": {"title": null, "legendX": 58, "legendY": 20}},
            "strokeDash": {"field": "s", "type": "nominal", "scale": {"domain": ["Normal", "Glioma (true class)", "Meningioma", "Pituitary"], "range": [[3, 1.5], [1, 0], [3, 1.5], [3, 1.5]]}, "legend": {"title": null}},
            "strokeWidth": {"condition": {"test": "indexof(datum.s,'true')>=0", "value": 1.8}, "value": 1}}},
          {"data": {"values": [{"t": "×10⁵"}]}, "mark": {"type": "text", "align": "left", "baseline": "bottom", "dy": -0.5, "fontSize": 4.8}, "encoding": {
            "x": {"datum": 0, "type": "quantitative", "title": "Pixel intensity", "axis": {"values": [0, 50, 100, 150, 200, 250], "labelOverlap": false}},
            "y": {"datum": 2.52, "type": "quantitative", "title": "Pixel count", "axis": {"values": [0, 0.5, 1, 1.5, 2, 2.5], "format": ".1f", "labelOverlap": false}}, "text": {"field": "t"}}}]},
        {"title": "MobileNetV2 | True class: Glioma | Incorrect", "width": 122, "height": 69, "layer": [
          {"data": {"name": "d"}, "transform": [{"filter": "datum.p=='6m'"}], "mark": "line", "encoding": {
            "x": {"field": "x", "type": "quantitative", "title": "Pixel intensity", "scale": {"domain": [0, 255]}, "axis": {"values": [0, 50, 100, 150, 200, 250], "labelOverlap": false}},
            "y": {"field": "y", "type": "quantitative", "title": "Pixel count", "scale": {"domain": [-0.05, 1.04]}, "axis": {"values": [0, 0.2, 0.4, 0.6, 0.8, 1], "format": ".1f", "labelOverlap": false}},
            "color": {"field": "s", "type": "nominal", "scale": {"domain": ["Normal", "Glioma (true class)", "Meningioma", "Pituitary"], "range": ["#2fd84f", "#ffd21f", "#4f86ea", "#ff4c4c"]}, "legend": {"title": null, "legendX": 58, "legendY": 20}},
            "strokeDash": {"field": "s", "type": "nominal", "scale": {"domain": ["Normal", "Glioma (true class)", "Meningioma", "Pituitary"], "range": [[3, 1.5], [1, 0], [3, 1.5], [3, 1.5]]}, "legend": {"title": null}},
            "strokeWidth": {"condition": {"test": "indexof(datum.s,'true')>=0", "value": 1.8}, "value": 1}}},
          {"data": {"values": [{"t": "×10⁶"}]}, "mark": {"type": "text", "align": "left", "baseline": "bottom", "dy": -0.5, "fontSize": 4.8}, "encoding": {
            "x": {"datum": 0, "type": "quantitative", "title": "Pixel intensity", "axis": {"values": [0, 50, 100, 150, 200, 250], "labelOverlap": false}},
            "y": {"datum": 1.04, "type": "quantitative", "title": "Pixel count", "axis": {"values": [0, 0.2, 0.4, 0.6, 0.8, 1], "format": ".1f", "labelOverlap": false}}, "text": {"field": "t"}}}]},
        {"title": "EfficientNetV2-B0 | True class: Glioma | Incorrect", "width": 122, "height": 69, "layer": [
          {"data": {"name": "d"}, "transform": [{"filter": "datum.p=='6e'"}], "mark": "line", "encoding": {
            "x": {"field": "x", "type": "quantitative", "title": "Pixel intensity", "scale": {"domain": [0, 255]}, "axis": {"values": [0, 50, 100, 150, 200, 250], "labelOverlap": false}},
            "y": {"field": "y", "type": "quantitative", "title": "Pixel count", "scale": {"domain": [-0.074, 1.544]}, "axis": {"values": [0, 0.2, 0.4, 0.6, 0.8, 1, 1.2, 1.4], "format": ".1f", "labelOverlap": false}},
            "color": {"field": "s", "type": "nominal", "scale": {"domain": ["Normal", "Glioma (true class)", "Meningioma", "Pituitary"], "range": ["#2fd84f", "#ffd21f", "#4f86ea", "#ff4c4c"]}, "legend": {"title": null, "legendX": 58, "legendY": 20}},
            "strokeDash": {"field": "s", "type": "nominal", "scale": {"domain": ["Normal", "Glioma (true class)", "Meningioma", "Pituitary"], "range": [[3, 1.5], [1, 0], [3, 1.5], [3, 1.5]]}, "legend": {"title": null}},
            "strokeWidth": {"condition": {"test": "indexof(datum.s,'true')>=0", "value": 1.8}, "value": 1}}},
          {"data": {"values": [{"t": "×10⁵"}]}, "mark": {"type": "text", "align": "left", "baseline": "bottom", "dy": -0.5, "fontSize": 4.8}, "encoding": {
            "x": {"datum": 0, "type": "quantitative", "title": "Pixel intensity", "axis": {"values": [0, 50, 100, 150, 200, 250], "labelOverlap": false}},
            "y": {"datum": 1.544, "type": "quantitative", "title": "Pixel count", "axis": {"values": [0, 0.2, 0.4, 0.6, 0.8, 1, 1.2, 1.4], "format": ".1f", "labelOverlap": false}}, "text": {"field": "t"}}}]}
      ]
    }
  ],
  "config": {
    "font": "DejaVu Sans",
    "view": {"stroke": "#c8c8c8", "strokeWidth": 0.6},
    "axis": {"domain": false, "ticks": false, "grid": true, "gridColor": "#e6e6e6", "gridWidth": 0.5, "labelFontSize": 4.8, "labelColor": "#222222", "labelPadding": 1.5, "labelOverlap": false, "labelFlush": false, "titleFontSize": 5.2, "titleFontWeight": "normal", "titleColor": "#222222", "titlePadding": 1.2},
    "title": {"fontSize": 6.3, "fontWeight": "normal", "color": "#111111", "offset": 4.5},
    "legend": {"orient": "none", "labelFontSize": 4.6, "labelColor": "#222222", "symbolType": "M-1.7,0H1.7", "symbolSize": 49, "symbolStrokeWidth": 1.2, "symbolOffset": 2.5, "rowPadding": 0.5, "padding": 2, "strokeColor": "#dcdcdc", "fillColor": "rgba(255,255,255,0.85)", "cornerRadius": 2, "labelOffset": 5, "labelLimit": 200},
    "text": {"color": "#222222"}
  }
}
